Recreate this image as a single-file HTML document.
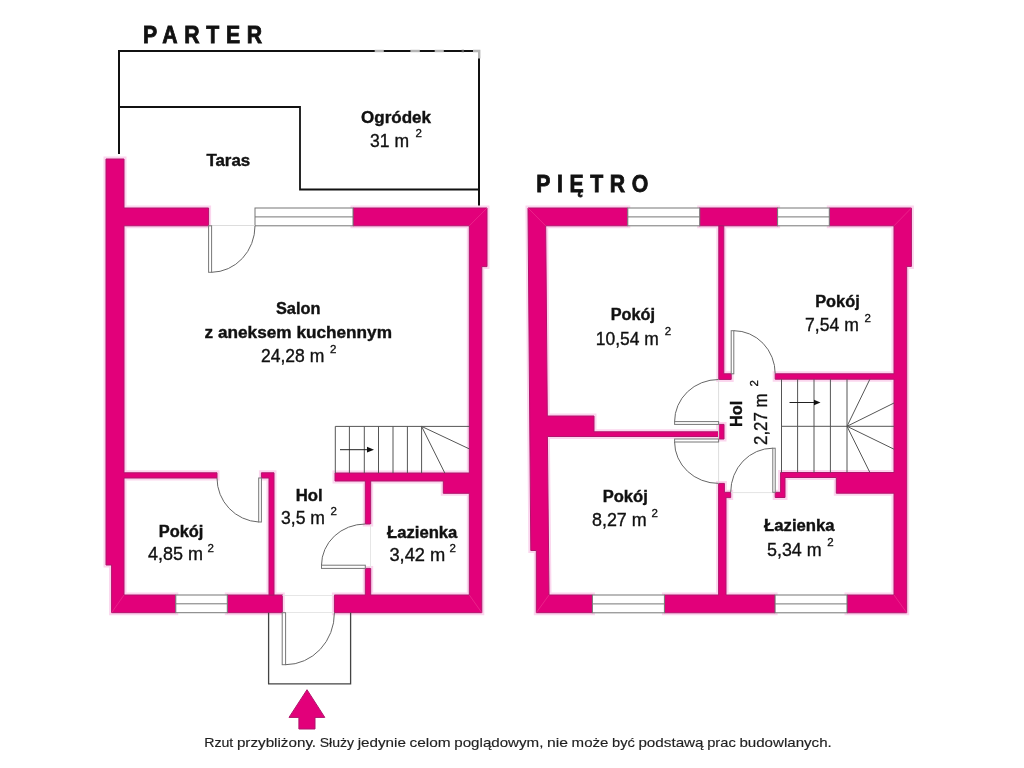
<!DOCTYPE html>
<html><head><meta charset="utf-8">
<style>
html,body{margin:0;padding:0;background:#fff;}
body{width:1024px;height:768px;overflow:hidden;position:relative;}
svg{position:absolute;left:0;top:0;will-change:transform;}
text{font-family:"Liberation Sans",sans-serif;fill:#111;stroke:#111;stroke-width:0.35;}
.b{font-weight:bold;stroke-width:0.4;}
.w{fill:#E2007A;stroke:#B0146C;stroke-width:1;}
.halo{fill:none;stroke:#FBD6EE;stroke-width:5;}
.mit{stroke:#EE3090;stroke-width:0.7;}
.g{fill:none;stroke:#666;stroke-width:1;}
.gw{fill:#fff;stroke:#777;stroke-width:1;}
.ft text{font-size:13.6px;fill:#222;stroke:#222;stroke-width:0.15;}
.k{fill:none;stroke:#111;stroke-width:2;}
</style></head>
<body>
<svg width="1024" height="768" viewBox="0 0 1024 768">
<defs>
<g id="WP">
<polygon points="106,159 124,159 124,208 208.6,208 208.6,225.8 124,225.8 124,472.8 217,472.8 217,478 124,478 124,595 175.8,595 175.8,612.7 111.6,612.7 111.6,565 106,565"/>
<rect x="227.3" y="595" width="55" height="17.7"/>
<polygon points="353,208 487,208 487,266.6 481.8,266.6 481.8,612.7 334.4,612.7 334.4,595 365.3,595 365.3,568.4 370.7,568.4 370.7,595 469.3,595 469.3,493.3 443.3,493.3 443.3,481 370.7,481 370.7,524 365.3,524 365.3,481 335,481 335,473 469.3,473 469.3,225.8 353,225.8"/>
<polygon points="261.4,472.8 274,472.8 274,595 269,595 269,478 261.4,478"/>
</g>
<g id="WU">
<polygon points="528,208 627.8,208 627.8,225.8 545.7,225.8 547.3,416 594,416 594,431.8 718.6,431.8 718.6,424.4 724,424.4 724,439 718.6,439 718.6,436.5 594,436.5 547.4,436.5 549,595 592.4,595 592.4,612.7 536.3,612.7 536.3,550.5 530.8,550.5"/>
<rect x="699.7" y="208" width="77.9" height="17.8"/>
<polygon points="829.3,208 911.4,208 911.4,266.4 906.7,266.4 906.7,612.8 847,612.8 847,595 894,595 894,493.2 836.3,493.2 836.3,477.5 785,477.5 785,497.5 775.2,497.5 775.2,492.3 780.6,492.3 780.6,472.5 894,472.5 894,379.2 775.2,379.2 775.2,373.8 894,373.8 894,225.8 829.3,225.8"/>
<polygon points="718.8,225.8 723.8,225.8 723.8,373.8 731.2,373.8 731.2,379.4 718.8,379.4"/>
<polygon points="718.6,483.4 724.4,483.4 724.4,492.3 730.7,492.3 730.7,497.6 726,497.6 726,595 775.1,595 775.1,612.8 664.4,612.8 664.4,595 718.6,595"/>
</g>
</defs>
<!-- ===== PARTER ===== -->
<!-- terrace outline -->
<polyline class="k" points="119,154 119,51 479,51 479,208"/>
<polyline class="k" points="119,107 300,107 300,189.5 479,189.5" style="stroke-width:1.8"/>
<g style="stroke:#b4b4b4;stroke-width:2.4;fill:none">
<line x1="374.7" y1="51" x2="383.8" y2="51"/>
<line x1="410.4" y1="51" x2="419.8" y2="51"/>
<line x1="434.7" y1="51" x2="443.8" y2="51"/>
<line x1="461.6" y1="51" x2="464" y2="51" style="stroke:#555"/>
<polyline points="473,51 479.2,51 479.2,58.5"/>
</g>

<!-- walls -->
<use href="#WP" class="halo"/>
<use href="#WP" class="w"/>

<!-- windows parter -->
<g class="g" style="stroke:#777">
<rect x="255" y="208" width="98" height="17.8" fill="#fff"/>
<line x1="255" y1="216.9" x2="353" y2="216.9"/>
<rect x="175.8" y="595" width="51.5" height="17.7" fill="#fff"/>
<line x1="175.8" y1="603.8" x2="227.3" y2="603.8"/>
</g>

<!-- doors parter -->
<g class="g">
<line x1="211" y1="225.5" x2="255" y2="225.5" style="stroke:#ddd"/>
<rect class="gw" x="208.6" y="225.8" width="3" height="46.5"/>
<path d="M211.6,272.3 A44,46.5 0 0 0 255,225.8"/>
<rect class="gw" x="258.7" y="478" width="2.7" height="44"/>
<path d="M217,478 A44,44 0 0 0 258.7,522"/>
<rect class="gw" x="321.5" y="565.2" width="43.8" height="3.2"/>
<path d="M321.5,565.2 A44,41.2 0 0 1 365.3,524"/>
<rect class="gw" x="282.2" y="612.7" width="3.4" height="52"/>
<path d="M285.6,664.7 A49,51.7 0 0 0 334.4,612.7"/>
</g>
<g style="stroke:#e6e6e6;stroke-width:1">
<line x1="282.5" y1="595.5" x2="334" y2="595.5"/>
<line x1="286" y1="612.5" x2="334" y2="612.5"/>
<line x1="370.5" y1="524.5" x2="370.5" y2="568"/>
</g>
<polyline points="268.6,612.7 268.6,683.8 350.6,683.8 350.6,612.7" style="fill:none;stroke:#444;stroke-width:1.3"/>
<polygon class="w" points="307,689.7 324.8,717.4 315,717.4 315,729 298.9,729 298.9,717.4 289,717.4"/>

<!-- stairs parter -->
<g class="g" style="stroke:#555">
<polyline points="469.3,426.4 335.3,426.4 335.3,473"/>
<line x1="349.4" y1="426.4" x2="349.4" y2="473"/>
<line x1="364.3" y1="426.4" x2="364.3" y2="473"/>
<line x1="378.5" y1="426.4" x2="378.5" y2="473"/>
<line x1="393" y1="426.4" x2="393" y2="473"/>
<line x1="407.4" y1="426.4" x2="407.4" y2="473"/>
<line x1="421.6" y1="426.4" x2="421.6" y2="473"/>
<line x1="421.6" y1="426.4" x2="469.3" y2="448.9"/>
<line x1="421.6" y1="426.4" x2="444.8" y2="473"/>
<line x1="340" y1="449.7" x2="368" y2="449.7" style="stroke:#222"/>
</g>
<polygon points="367,446.8 374,449.7 367,452.6" fill="#111"/>

<!-- ===== PIETRO ===== -->
<use href="#WU" class="halo"/>
<use href="#WU" class="w"/>

<g class="mit">
<line x1="469.3" y1="225.8" x2="487" y2="208"/>
<line x1="469.3" y1="595" x2="481.8" y2="612.7"/>
<line x1="124" y1="595" x2="111.6" y2="612.7"/>
<line x1="545.7" y1="225.8" x2="528" y2="208"/>
<line x1="894" y1="225.8" x2="911.4" y2="208"/>
<line x1="549" y1="595" x2="536.3" y2="612.7"/>
<line x1="894" y1="595" x2="906.7" y2="612.7"/>
</g>
<!-- windows pietro -->
<g class="g" style="stroke:#777">
<rect x="627.8" y="208" width="71.9" height="17.8" fill="#fff"/>
<line x1="627.8" y1="216.9" x2="699.7" y2="216.9"/>
<rect x="777.6" y="208" width="51.7" height="17.8" fill="#fff"/>
<line x1="777.6" y1="216.9" x2="829.3" y2="216.9"/>
<rect x="592.4" y="595" width="72" height="17.8" fill="#fff"/>
<line x1="592.4" y1="603.9" x2="664.4" y2="603.9"/>
<rect x="775.1" y="595" width="71.9" height="17.8" fill="#fff"/>
<line x1="775.1" y1="603.9" x2="847" y2="603.9"/>
</g>

<!-- doors pietro -->
<g class="g">
<line x1="718.6" y1="379.5" x2="718.6" y2="483.4" style="stroke:#ddd"/>
<line x1="731" y1="492.6" x2="772.5" y2="492.6" style="stroke:#e4e4e4"/>
<rect class="gw" x="674.6" y="421.6" width="44" height="2.8"/>
<path d="M674.6,421.6 A44,42 0 0 1 718.6,379.5"/>
<rect class="gw" x="674.6" y="439" width="44" height="3"/>
<path d="M674.6,442 A44,41.4 0 0 0 718.6,483.4"/>
<rect class="gw" x="731.2" y="330.7" width="2.6" height="43.1"/>
<path d="M733.8,330.7 A41.4,43.1 0 0 1 775.2,373.8"/>
<rect class="gw" x="772.8" y="448.2" width="2.4" height="44.1"/>
<path d="M772.8,448.2 A42.1,44.1 0 0 0 730.7,492.3"/>
</g>

<!-- stairs pietro -->
<g class="g" style="stroke:#555">
<line x1="781.5" y1="379.2" x2="781.5" y2="472.5"/>
<line x1="797.6" y1="379.2" x2="797.6" y2="472.5"/>
<line x1="814" y1="379.2" x2="814" y2="472.5"/>
<line x1="830.4" y1="379.2" x2="830.4" y2="472.5"/>
<line x1="847" y1="379.2" x2="847" y2="472.5"/>
<line x1="781.5" y1="426.3" x2="894" y2="426.3"/>
<line x1="847" y1="426.3" x2="869.9" y2="379.2"/>
<line x1="847" y1="426.3" x2="894" y2="403"/>
<line x1="847" y1="426.3" x2="894" y2="449.2"/>
<line x1="847" y1="426.3" x2="869.9" y2="472.5"/>
<line x1="789.5" y1="402.5" x2="815" y2="402.5" style="stroke:#222"/>
</g>
<polygon points="814,399.8 820.5,402.5 814,405.2" fill="#111"/>

<!-- ===== TEXT ===== -->
<text class="b" transform="translate(143,43.2) scale(0.86,1)" x="0" y="0" font-size="24.7" textLength="138.5" lengthAdjust="spacing" style="stroke-width:0.85">PARTER</text>
<text class="b" transform="translate(536.2,191.8) scale(0.86,1)" x="0" y="0" font-size="24.7" textLength="130.2" lengthAdjust="spacing" style="stroke-width:0.85">PIĘTRO</text>

<text class="b" x="361" y="123.3" font-size="17.4" textLength="70" lengthAdjust="spacingAndGlyphs">Ogródek</text>
<text x="370" y="147" font-size="17.9" textLength="39" lengthAdjust="spacingAndGlyphs">31 m</text>
<text x="415.4" y="137.3" font-size="11.5">2</text>

<text class="b" x="206.4" y="165.8" font-size="17.4" textLength="43.8" lengthAdjust="spacingAndGlyphs">Taras</text>

<text class="b" x="275.9" y="314" font-size="17.4" textLength="44.5" lengthAdjust="spacingAndGlyphs">Salon</text>
<text class="b" x="204.6" y="337.7" font-size="17.4" textLength="187.4" lengthAdjust="spacingAndGlyphs">z aneksem kuchennym</text>
<text x="260.9" y="361.5" font-size="17.9" textLength="63.4" lengthAdjust="spacingAndGlyphs">24,28 m</text>
<text x="330.1" y="352.7" font-size="11.5">2</text>

<text class="b" x="158.7" y="537.4" font-size="17.4" textLength="44.7" lengthAdjust="spacingAndGlyphs">Pokój</text>
<text x="148" y="560" font-size="17.9" textLength="55" lengthAdjust="spacingAndGlyphs">4,85 m</text>
<text x="207.6" y="551.8" font-size="11.5">2</text>

<text class="b" x="295.7" y="501" font-size="17.4" textLength="26.9" lengthAdjust="spacingAndGlyphs">Hol</text>
<text x="281" y="524" font-size="17.9" textLength="44" lengthAdjust="spacingAndGlyphs">3,5 m</text>
<text x="330.5" y="515" font-size="11.5">2</text>

<text class="b" x="387" y="538" font-size="17.4" textLength="70.4" lengthAdjust="spacingAndGlyphs">Łazienka</text>
<text x="389.4" y="561" font-size="17.9" textLength="56" lengthAdjust="spacingAndGlyphs">3,42 m</text>
<text x="449.5" y="551.6" font-size="11.5">2</text>

<text class="b" x="610.7" y="320.2" font-size="17.4" textLength="44.3" lengthAdjust="spacingAndGlyphs">Pokój</text>
<text x="595.8" y="344.5" font-size="17.9" textLength="63" lengthAdjust="spacingAndGlyphs">10,54 m</text>
<text x="664.7" y="334.8" font-size="11.5">2</text>

<text class="b" x="815.2" y="306.6" font-size="17.4" textLength="44.6" lengthAdjust="spacingAndGlyphs">Pokój</text>
<text x="805.1" y="330.8" font-size="17.9" textLength="53.7" lengthAdjust="spacingAndGlyphs">7,54 m</text>
<text x="864.5" y="321.8" font-size="11.5">2</text>

<text class="b" x="602.7" y="501.8" font-size="17.4" textLength="45.1" lengthAdjust="spacingAndGlyphs">Pokój</text>
<text x="592" y="525.9" font-size="17.9" textLength="54.7" lengthAdjust="spacingAndGlyphs">8,27 m</text>
<text x="651.6" y="516.6" font-size="11.5">2</text>

<text class="b" x="764.1" y="531.2" font-size="17.4" textLength="70.5" lengthAdjust="spacingAndGlyphs">Łazienka</text>
<text x="767" y="555.5" font-size="17.9" textLength="54.7" lengthAdjust="spacingAndGlyphs">5,34 m</text>
<text x="827.2" y="545.8" font-size="11.5">2</text>

<g transform="translate(742.3,426.9) rotate(-90)">
<text class="b" x="0" y="0" font-size="17.4" textLength="26.2" lengthAdjust="spacingAndGlyphs">Hol</text>
</g>
<g transform="translate(766.9,445) rotate(-90)">
<text x="0" y="0" font-size="17.9" textLength="51.6" lengthAdjust="spacingAndGlyphs">2,27 m</text>
<text x="58.6" y="-9.4" font-size="11.5">2</text>
</g>

<g class="ft">
<text x="204.2" y="746.8" textLength="29.1" lengthAdjust="spacingAndGlyphs">Rzut</text>
<text x="236.9" y="746.8" textLength="79.2" lengthAdjust="spacingAndGlyphs">przybliżony.</text>
<text x="319.7" y="746.8" textLength="34.4" lengthAdjust="spacingAndGlyphs">Służy</text>
<text x="357.7" y="746.8" textLength="48.2" lengthAdjust="spacingAndGlyphs">jedynie</text>
<text x="409.5" y="746.8" textLength="41.2" lengthAdjust="spacingAndGlyphs">celom</text>
<text x="454.3" y="746.8" textLength="89.1" lengthAdjust="spacingAndGlyphs">poglądowym,</text>
<text x="547.0" y="746.8" textLength="21.0" lengthAdjust="spacingAndGlyphs">nie</text>
<text x="571.6" y="746.8" textLength="36.8" lengthAdjust="spacingAndGlyphs">może</text>
<text x="612.0" y="746.8" textLength="22.8" lengthAdjust="spacingAndGlyphs">być</text>
<text x="638.4" y="746.8" textLength="65.2" lengthAdjust="spacingAndGlyphs">podstawą</text>
<text x="707.2" y="746.8" textLength="28.6" lengthAdjust="spacingAndGlyphs">prac</text>
<text x="739.4" y="746.8" textLength="92.4" lengthAdjust="spacingAndGlyphs">budowlanych.</text>
</g>
</svg>
</body></html>
